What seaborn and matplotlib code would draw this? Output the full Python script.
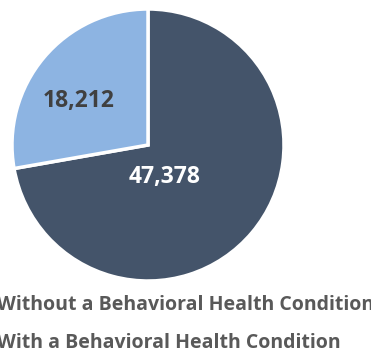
import matplotlib
matplotlib.use("Agg")
import matplotlib.pyplot as plt
import seaborn as sns

categories = ["Without a Behavioral Health Condition", "With a Behavioral Health Condition"]
values = [47378, 18212]
colors = ["#44546A", "#8DB4E2"]
label_colors = ["white", "#404040"]

sns.set_theme(style="white")
plt.rcParams['font.family'] = ['Open Sans', 'DejaVu Sans']

W, H = 371, 356
fig = plt.figure(figsize=(W / 100, H / 100), dpi=100)
ax = fig.add_axes([12 / W, 75 / H, 272 / W, 272 / H])

wedges, _ = ax.pie(values, colors=colors, startangle=90, counterclock=False,
                   wedgeprops=dict(edgecolor="white", linewidth=2.5))
ax.set_xlim(-1, 1)
ax.set_ylim(-1, 1)
ax.set_aspect("equal")

label_pos = [(0.125, -0.235), (-0.51, 0.32)]
for (x, y), v, c in zip(label_pos, values, label_colors):
    ax.text(x, y, f"{v:,}", ha="center", va="center", fontsize=16.5, fontweight="bold", color=c)

leg = fig.legend(wedges, categories, loc="upper left", bbox_to_anchor=(-32 / W, 1 - 295 / H),
                 frameon=False, fontsize=14, handlelength=1, handletextpad=0.5,
                 borderpad=0, borderaxespad=0, labelspacing=0.9)
for t in leg.get_texts():
    t.set_color("#595959")
    t.set_fontweight("bold")

fig.savefig("out.png", dpi=100)
